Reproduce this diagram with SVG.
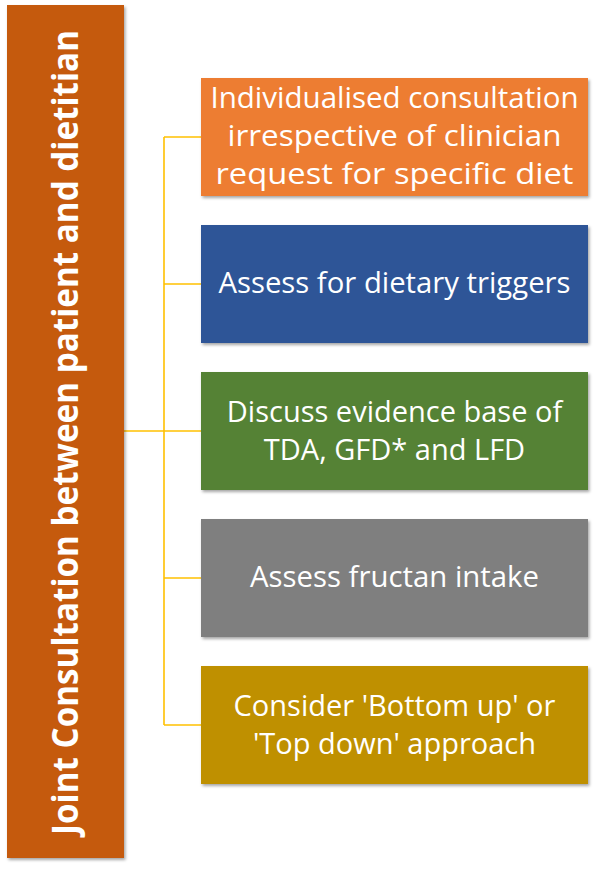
<svg xmlns="http://www.w3.org/2000/svg" width="595" height="869" viewBox="0 0 595 869">
<defs>
<filter id="sh" x="-5%" y="-5%" width="115%" height="115%">
<feDropShadow dx="1.5" dy="2" stdDeviation="1.5" flood-color="#000" flood-opacity="0.35"/>
</filter>
<style>
.box{filter:url(#sh);}
.t{font-family:"Open Sans","Noto Sans","Liberation Sans",sans-serif;fill:#fff;font-size:29px;text-anchor:middle;}
.tb{font-family:"Open Sans","Noto Sans","Liberation Sans",sans-serif;fill:#fff;font-size:36px;font-weight:bold;text-anchor:middle;}
.c{fill:none;stroke:#FFC000;stroke-width:1.6;}
</style>
</defs>
<rect width="595" height="869" fill="#fff"/>
<g id="connectors">
<path class="c" d="M124 431 H201"/>
<path class="c" d="M164 137 V725"/>
<path class="c" d="M164 137 H201"/>
<path class="c" d="M164 284 H201"/>
<path class="c" d="M164 578 H201"/>
<path class="c" d="M164 725 H201"/>
</g>
<g id="root">
<rect class="box" x="7" y="5" width="117" height="853" fill="#C55A11"/>
<text class="tb" transform="translate(78,432.5) rotate(-90)" x="0" y="0" textLength="805" lengthAdjust="spacingAndGlyphs">Joint Consultation between patient and dietitian</text>
</g>
<g id="n1">
<rect class="box" x="201" y="78" width="387" height="118" fill="#ED7D31"/>
<text class="t" x="394.5" y="108" textLength="368" lengthAdjust="spacingAndGlyphs">Individualised consultation</text>
<text class="t" x="394.5" y="146" textLength="334" lengthAdjust="spacingAndGlyphs">irrespective of clinician</text>
<text class="t" x="394.5" y="184" textLength="358" lengthAdjust="spacingAndGlyphs">request for specific diet</text>
</g>
<g id="n2">
<rect class="box" x="201" y="225" width="387" height="118" fill="#2F5597"/>
<text class="t" x="394.5" y="293" textLength="352" lengthAdjust="spacingAndGlyphs">Assess for dietary triggers</text>
</g>
<g id="n3">
<rect class="box" x="201" y="372" width="387" height="118" fill="#548235"/>
<text class="t" x="394.5" y="422">Discuss evidence base of</text>
<text class="t" x="394.5" y="460">TDA, GFD* and LFD</text>
</g>
<g id="n4">
<rect class="box" x="201" y="519" width="387" height="118" fill="#7F7F7F"/>
<text class="t" x="394.5" y="587" textLength="289" lengthAdjust="spacingAndGlyphs">Assess fructan intake</text>
</g>
<g id="n5">
<rect class="box" x="201" y="666" width="387" height="118" fill="#BF9000"/>
<text class="t" x="394.5" y="716">Consider 'Bottom up' or</text>
<text class="t" x="394.5" y="754">'Top down' approach</text>
</g>
</svg>
